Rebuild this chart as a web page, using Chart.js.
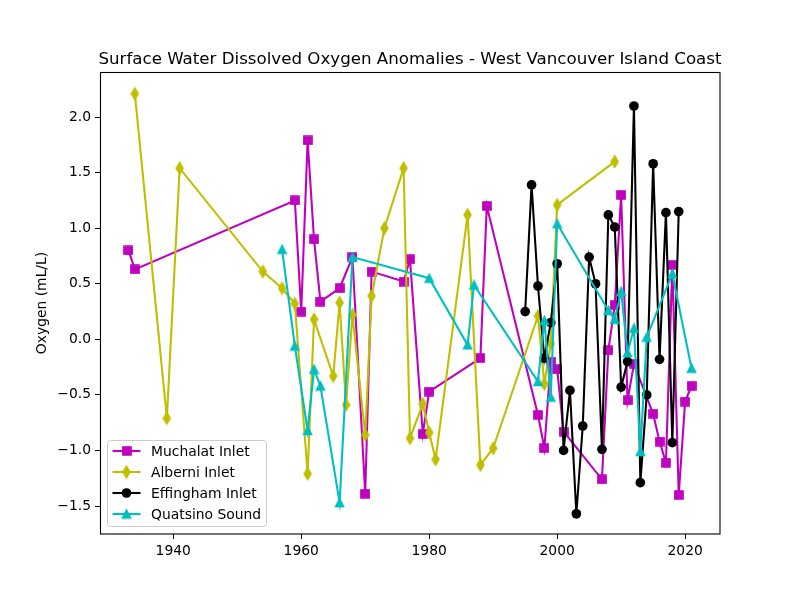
<!DOCTYPE html>
<html><head><meta charset="utf-8">
<script src="https://cdn.jsdelivr.net/npm/chart.js@4/dist/chart.umd.min.js"></script>
<style>html,body{margin:0;padding:0;background:#fff}#wrap{width:800px;height:600px}</style>
</head><body><div id="wrap"><canvas id="c" width="800" height="600"></canvas></div>
<script>
const chartTitle = 'Surface Water Dissolved Oxygen Anomalies - West Vancouver Island Coast';
const yAxisLabel = 'Oxygen (mL/L)';
const xTicks = [1940, 1960, 1980, 2000, 2020];
const yTicks = [-1.5, -1.0, -0.5, 0.0, 0.5, 1.0, 1.5, 2.0];
const seriesNames = ['Muchalat Inlet', 'Alberni Inlet', 'Effingham Inlet', 'Quatsino Sound'];

const muchalatYears = [1933,1934,1959,1960,1961,1962,1963,1966,1968,1970,1971,1976,1977,1979,1980,1988,1989,1997,1998,1999,2000,2001,2007,2008,2009,2010,2011,2012,2015,2016,2017,2018,2019,2020,2021];
const muchalatValues = [0.80,0.63,1.25,0.25,1.79,0.90,0.34,0.46,0.74,-1.39,0.61,0.52,0.72,-0.85,-0.47,-0.17,1.20,-0.68,-0.98,-0.20,-0.27,-0.83,-1.26,-0.10,0.31,1.30,-0.55,-0.22,-0.67,-0.92,-1.11,0.67,-1.40,-0.56,-0.42];

const alberniYears = [1934,1939,1941,1954,1957,1959,1961,1962,1965,1966,1967,1968,1970,1971,1973,1976,1977,1979,1980,1981,1986,1988,1990,1997,1998,1999,2000,2009];
const alberniValues = [2.21,-0.71,1.54,0.61,0.46,0.32,-1.21,0.18,-0.33,0.33,-0.59,0.22,-0.86,0.39,1.00,1.54,-0.89,-0.58,-0.84,-1.08,1.12,-1.13,-0.98,0.21,-0.40,-0.04,1.21,1.60];

const effinghamYears = [1995,1996,1997,1998,1999,2000,2001,2002,2003,2004,2005,2006,2007,2008,2009,2010,2011,2012,2013,2014,2015,2016,2017,2018,2019];
const effinghamValues = [0.25,1.39,0.48,-0.17,0.15,0.68,-1.00,-0.46,-1.57,-0.78,0.74,0.50,-0.99,1.12,1.01,-0.43,-0.20,2.10,-1.29,-0.50,1.58,-0.18,1.14,-0.93,1.15];

const quatsinoYears = [1957,1959,1961,1962,1963,1966,1968,1980,1986,1987,1997,1998,1999,2000,2008,2009,2010,2011,2012,2013,2014,2018,2021];
const quatsinoValues = [0.81,-0.06,-0.82,-0.27,-0.42,-1.47,0.74,0.55,-0.05,0.49,-0.38,0.17,-0.52,1.04,0.26,0.18,0.43,-0.12,0.10,-1.01,0.02,0.59,-0.26];

const colors = ['#bf00bf', '#bfbf00', '#000000', '#00bfbf'];
const FONT = '"DejaVu Sans", "Liberation Sans", sans-serif';
const FS = 13.89;

function makeMarker(shape, color) {
  const c = document.createElement('canvas');
  if (shape === 'square') { c.width = 10; c.height = 10; }
  else if (shape === 'diamond') { c.width = 9; c.height = 15; }
  else { c.width = 11; c.height = 11; }
  const g = c.getContext('2d');
  g.fillStyle = color; g.strokeStyle = color; g.lineWidth = 1.39; g.lineJoin = 'miter';
  g.beginPath();
  if (shape === 'square') {
    g.rect(0.85, 0.85, 8.3, 8.3);
  } else if (shape === 'diamond') {
    g.moveTo(4.5, 7.5 - 5.89); g.lineTo(4.5 + 3.53, 7.5); g.lineTo(4.5, 7.5 + 5.89); g.lineTo(4.5 - 3.53, 7.5); g.closePath();
  } else {
    g.moveTo(5.5, 1.35); g.lineTo(9.65, 9.65); g.lineTo(1.35, 9.65); g.closePath();
  }
  g.fill(); g.stroke();
  return c;
}
const markerSquare = makeMarker('square', colors[0]);
const markerDiamond = makeMarker('diamond', colors[1]);
const markerTriangle = makeMarker('triangle', colors[3]);
const markers = [markerSquare, markerDiamond, 'circle', markerTriangle];

function pts(xs, ys) { return xs.map((x, i) => ({ x: x, y: ys[i] })); }

function ds(i, xs, ys, order) {
  const isC = markers[i] === 'circle';
  return {
    label: seriesNames[i], data: pts(xs, ys), order: order,
    borderColor: colors[i], backgroundColor: colors[i], borderWidth: 2.08, tension: 0, fill: false,
    pointStyle: markers[i], pointRadius: isC ? 4.85 : 5, pointHoverRadius: isC ? 4.85 : 5,
    pointBackgroundColor: colors[i], pointBorderColor: colors[i], pointBorderWidth: 0
  };
}

function fmtTick(v) {
  const s = Number(v).toFixed(1);
  return s.replace('-', '\u2212');
}

const deco = {
  id: 'deco',
  afterDatasetsDraw(chart) {
    const { ctx, chartArea: a } = chart;
    ctx.save();
    ctx.strokeStyle = '#000'; ctx.lineWidth = 1.1;
    ctx.strokeRect(Math.round(a.left) + 0.5, Math.round(a.top) + 0.5, Math.round(a.right - a.left) - 0.5, Math.round(a.bottom - a.top) - 0.5);
    ctx.restore();
  },
  afterDraw(chart) {
    const { ctx, chartArea: a } = chart;
    ctx.save();
    ctx.fillStyle = '#000';
    ctx.font = '16.67px ' + FONT;
    ctx.textAlign = 'center'; ctx.textBaseline = 'alphabetic';
    ctx.fillText(chartTitle, (a.left + a.right) / 2, 64);
    ctx.save();
    ctx.translate(46, (a.top + a.bottom) / 2);
    ctx.rotate(-Math.PI / 2);
    ctx.font = FS + 'px ' + FONT;
    ctx.textAlign = 'center'; ctx.textBaseline = 'alphabetic';
    ctx.fillText(yAxisLabel, 0, 0);
    ctx.restore();
    const bx = 107.5, by = 440.5, bw = 159, bh = 86, r = 3;
    ctx.beginPath();
    ctx.moveTo(bx + r, by); ctx.lineTo(bx + bw - r, by); ctx.quadraticCurveTo(bx + bw, by, bx + bw, by + r);
    ctx.lineTo(bx + bw, by + bh - r); ctx.quadraticCurveTo(bx + bw, by + bh, bx + bw - r, by + bh);
    ctx.lineTo(bx + r, by + bh); ctx.quadraticCurveTo(bx, by + bh, bx, by + bh - r);
    ctx.lineTo(bx, by + r); ctx.quadraticCurveTo(bx, by, bx + r, by);
    ctx.closePath();
    ctx.fillStyle = 'rgba(255,255,255,0.8)'; ctx.fill();
    ctx.strokeStyle = '#cccccc'; ctx.lineWidth = 1; ctx.stroke();
    const rows = [451, 472, 493, 514];
    ctx.font = FS + 'px ' + FONT; ctx.textAlign = 'left'; ctx.textBaseline = 'alphabetic';
    seriesNames.forEach((name, i) => {
      const yy = rows[i];
      ctx.strokeStyle = colors[i]; ctx.lineWidth = 2.08;
      ctx.beginPath(); ctx.moveTo(112.5, yy); ctx.lineTo(140.5, yy); ctx.stroke();
      const m = markers[i];
      if (m === 'circle') {
        ctx.fillStyle = colors[i]; ctx.beginPath(); ctx.arc(126.5, yy, 4.85, 0, Math.PI * 2); ctx.fill();
      } else {
        ctx.drawImage(m, 126.5 - m.width / 2, yy - m.height / 2);
      }
      ctx.fillStyle = '#000';
      ctx.fillText(name, 151, yy + 5);
    });
    ctx.restore();
  }
};

new Chart(document.getElementById('c'), {
  type: 'line',
  data: {
    datasets: [
      ds(0, muchalatYears, muchalatValues, 4),
      ds(1, alberniYears, alberniValues, 3),
      ds(2, effinghamYears, effinghamValues, 2),
      ds(3, quatsinoYears, quatsinoValues, 1)
    ]
  },
  options: {
    responsive: false, animation: false, devicePixelRatio: 1,
    layout: { padding: { top: 72, right: 80, left: 0, bottom: 0 } },
    plugins: { legend: { display: false }, tooltip: { enabled: false }, title: { display: false } },
    events: [],
    scales: {
      x: {
        type: 'linear', min: 1928.55, max: 2025.45,
        afterBuildTicks: s => { s.ticks = xTicks.map(v => ({ value: v })); },
        afterFit: s => { s.height = 66; },
        grid: { drawOnChartArea: false, drawTicks: true, tickLength: 5, color: '#000', tickColor: '#000', lineWidth: 1 },
        border: { display: false },
        ticks: { color: '#000', font: { family: FONT, size: FS }, padding: 4, maxRotation: 0, autoSkip: false, callback: v => String(v) }
      },
      y: {
        type: 'linear', min: -1.752, max: 2.406,
        afterBuildTicks: s => { s.ticks = yTicks.map(v => ({ value: v })); },
        afterFit: s => { s.width = 100; },
        grid: { drawOnChartArea: false, drawTicks: true, tickLength: 5, color: '#000', tickColor: '#000', lineWidth: 1 },
        border: { display: false },
        ticks: { color: '#000', font: { family: FONT, size: FS }, padding: 4, autoSkip: false, callback: v => fmtTick(v) }
      }
    }
  },
  plugins: [deco]
});
</script>
</body></html>
